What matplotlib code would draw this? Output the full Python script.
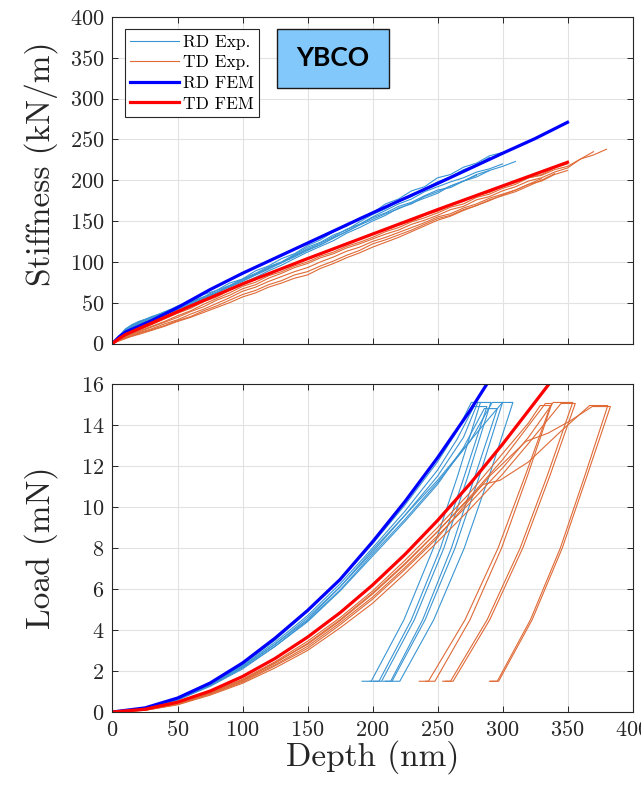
import matplotlib
matplotlib.use("Agg")
import matplotlib.pyplot as plt
from matplotlib.patches import Rectangle

plt.rcParams['font.family'] = ['cmr10', 'DejaVu Serif']
plt.rcParams['axes.formatter.use_mathtext'] = True
plt.rcParams['mathtext.fontset'] = 'cm'

# ---------------- Top panel: stiffness vs depth ----------------
STIFF_GRID = [0, 5, 10, 15, 20, 30, 40, 50, 60, 70, 80, 90, 100, 110, 120, 130, 140, 150,
              160, 170, 180, 190, 200, 210, 220, 230, 240, 250, 260, 270, 280, 290, 300,
              310, 320, 330, 340, 350, 360, 370, 380]

RD_EXP_STIFF = [
    [0, 9, 17, 23, 26, 33, 38, 46, 51, 60, 65, 74, 79, 89, 95, 104, 110, 120, 127, 137, 144, 154, 160,
     171, 177, 187, 192, 203, 207, 216, 221, 230, 234],
    [0, 8, 16, 21, 25, 31, 38, 44, 51, 57, 65, 71, 79, 86, 94, 100, 109, 118, 124, 133, 139, 149, 158,
     165, 174, 180, 190, 198, 204, 213, 219, 228],
    [0, 7, 15, 20, 24, 30, 36, 42, 48, 55, 62, 69, 76, 84, 91, 99, 106, 114, 121, 129, 137, 146, 154,
     160, 168, 173, 181, 188, 191, 199, 204, 212, 217, 223],
    [0, 8, 17, 22, 26, 32, 39, 45, 50, 57, 63, 71, 78, 85, 93, 99, 108, 116, 123, 131, 140, 146, 155,
     163, 171, 177, 186, 192, 198, 203, 210, 214, 220],
    [0, 8, 15, 20, 24, 29, 35, 41, 47, 54, 60, 67, 74, 81, 89, 96, 104, 112, 119, 126, 135, 142, 150,
     157, 166, 171, 180, 186, 193, 199, 207, 212],
    [0, 9, 18, 23, 27, 32, 38, 43, 49, 56, 62, 70, 77, 84, 92, 99, 107, 115, 121, 130, 137, 145, 152,
     159, 165, 172, 178, 184, 193, 199, 206],
]

TD_EXP_STIFF = [
    [0, 5, 9, 12, 15, 21, 27, 34, 40, 48, 55, 62, 70, 75, 83, 88, 95, 100, 107, 112, 119, 124, 130,
     137, 142, 149, 154, 160, 167, 171, 179, 183, 190, 195, 203, 206, 213, 217, 226, 231, 238],
    [0, 5, 8, 11, 14, 20, 26, 32, 39, 45, 53, 59, 67, 72, 80, 86, 93, 98, 105, 110, 117, 122, 128,
     134, 139, 146, 151, 157, 164, 168, 176, 180, 187, 192, 199, 203, 210, 215, 226, 235],
    [0, 6, 10, 13, 16, 23, 30, 37, 43, 51, 57, 65, 72, 78, 86, 91, 98, 103, 110, 115, 123, 128, 135,
     139, 145, 150, 157, 162, 169, 174, 181, 185, 192, 197, 203, 207, 215, 220],
    [0, 4, 7, 10, 13, 18, 24, 29, 36, 42, 49, 56, 64, 69, 76, 82, 88, 93, 100, 106, 113, 118, 125,
     130, 136, 142, 148, 155, 159, 166, 171, 178, 183, 188, 195, 199, 207, 212],
    [0, 4, 7, 9, 12, 17, 22, 28, 33, 40, 46, 53, 60, 65, 72, 77, 84, 88, 95, 101, 108, 114, 122,
     127, 133, 139, 146, 153, 157, 164, 169, 176, 181, 186, 193, 200, 208],
    [0, 3, 6, 9, 11, 16, 21, 27, 32, 38, 44, 50, 57, 62, 69, 74, 80, 84, 92, 98, 105, 111, 118,
     124, 130, 137, 144, 151, 156, 163, 169, 175, 182, 188, 195, 202],
]

RD_FEM_S_DEPTH = [0, 5, 10, 20, 30, 50, 75, 100, 150, 200, 250, 300, 325, 335, 350]
RD_FEM_STIFF = [0, 8, 14, 21, 28, 44, 66, 86, 123, 160, 196, 233, 251, 259, 271]
TD_FEM_S_DEPTH = [0, 5, 10, 20, 50, 100, 150, 200, 250, 300, 350]
TD_FEM_STIFF = [0, 6, 11, 18, 39, 73, 104, 134, 164, 193, 222]

# ---------------- Bottom panel: load vs depth ----------------
RD_EXP_DEPTH = [
    [0, 25, 50, 75, 100, 125, 150, 175, 200, 225, 250, 265, 276, 283, 265.4, 246.9, 224.2, 199, 192],
    [0, 25, 50, 75, 100, 125, 150, 175, 200, 225, 250, 270, 281, 291, 273.4, 254.9, 232.2, 207, 201],
    [0, 25, 50, 75, 100, 125, 150, 175, 200, 225, 250, 275, 292, 300, 282.2, 263.5, 240.5, 215, 210],
    [0, 25, 50, 75, 100, 125, 150, 175, 200, 225, 250, 280, 300, 308, 289.7, 270.6, 247.1, 221, 215],
    [0, 25, 50, 75, 100, 125, 150, 175, 200, 225, 250, 270, 286, 296, 278.8, 260.7, 238.6, 214, 208],
    [0, 25, 50, 75, 100, 125, 150, 175, 200, 225, 250, 265, 278, 288, 270.6, 252.3, 229.9, 205, 198],
]
RD_EXP_LOAD = [
    [0, 0.18, 0.65, 1.38, 2.3, 3.5, 4.9, 6.45, 8.2, 10.1, 12.2, 13.7, 15.1, 15.1, 11.5, 8, 4.5, 1.5, 1.5],
    [0, 0.17, 0.6, 1.3, 2.2, 3.3, 4.6, 6.1, 7.8, 9.6, 11.5, 13.4, 15.1, 15.1, 11.5, 8, 4.5, 1.5, 1.5],
    [0, 0.16, 0.58, 1.25, 2.1, 3.2, 4.45, 5.95, 7.7, 9.4, 11.2, 13.2, 15.1, 15.1, 11.5, 8, 4.5, 1.5, 1.5],
    [0, 0.17, 0.62, 1.3, 2.2, 3.3, 4.5, 6.1, 7.9, 9.6, 11.3, 13.6, 15.1, 15.1, 11.5, 8, 4.5, 1.5, 1.5],
    [0, 0.16, 0.6, 1.28, 2.15, 3.2, 4.4, 5.9, 7.6, 9.3, 11.1, 12.9, 14.8, 14.8, 11.5, 8, 4.5, 1.5, 1.5],
    [0, 0.18, 0.64, 1.35, 2.25, 3.4, 4.7, 6.25, 8.0, 9.8, 11.8, 13.3, 14.9, 14.9, 11.5, 8, 4.5, 1.5, 1.5],
]
TD_EXP_DEPTH = [
    [0, 25, 50, 75, 100, 125, 150, 175, 200, 225, 250, 275, 300, 320, 329, 337, 317.3, 296.6, 271.2, 243, 236],
    [0, 25, 50, 75, 100, 125, 150, 175, 200, 225, 250, 275, 300, 318, 333, 338, 319.1, 299.3, 275, 248, 241],
    [0, 25, 50, 75, 100, 125, 150, 175, 200, 225, 250, 275, 300, 320, 339, 354, 334.3, 313.6, 288.2, 260, 254],
    [0, 25, 50, 75, 100, 125, 150, 175, 200, 225, 250, 275, 300, 320, 345, 356, 336.3, 315.6, 290.2, 262, 256],
    [0, 25, 50, 75, 100, 125, 150, 175, 200, 225, 250, 285, 298, 320, 345, 367, 381, 363.2, 344.5, 321.5, 296, 290],
    [0, 25, 50, 75, 100, 125, 150, 175, 200, 225, 250, 290, 318, 335, 352, 369, 383, 364.9, 346, 322.8, 297, 291],
]
TD_EXP_LOAD = [
    [0, 0.1, 0.42, 0.95, 1.6, 2.45, 3.45, 4.6, 5.9, 7.4, 9.0, 10.7, 12.6, 14.1, 14.95, 14.95, 11.5, 8, 4.5, 1.5, 1.5],
    [0, 0.1, 0.4, 0.92, 1.55, 2.38, 3.35, 4.5, 5.8, 7.25, 8.8, 10.5, 12.3, 13.8, 15.05, 15.05, 11.5, 8, 4.5, 1.5, 1.5],
    [0, 0.09, 0.38, 0.88, 1.5, 2.3, 3.2, 4.35, 5.6, 7.05, 8.6, 10.2, 11.9, 13.4, 15.1, 15.1, 11.5, 8, 4.5, 1.5, 1.5],
    [0, 0.08, 0.35, 0.82, 1.4, 2.15, 3.0, 4.1, 5.3, 6.75, 8.3, 9.9, 11.6, 13.1, 15.05, 15.05, 11.5, 8, 4.5, 1.5, 1.5],
    [0, 0.1, 0.4, 0.93, 1.55, 2.4, 3.3, 4.45, 5.75, 7.2, 8.8, 11.1, 11.3, 12.2, 13.7, 14.95, 14.95, 11.5, 8, 4.5, 1.5, 1.5],
    [0, 0.09, 0.37, 0.87, 1.45, 2.25, 3.1, 4.25, 5.5, 6.95, 8.5, 11.5, 13.2, 13.6, 14.2, 14.9, 14.9, 11.5, 8, 4.5, 1.5, 1.5],
]
RD_FEM_L_DEPTH = [0, 25, 50, 75, 100, 125, 150, 175, 200, 225, 250, 275, 290]
RD_FEM_LOAD = [0, 0.2, 0.68, 1.41, 2.39, 3.6, 4.95, 6.46, 8.3, 10.27, 12.4, 14.7, 16.2]
TD_FEM_L_DEPTH = [0, 25, 50, 75, 100, 125, 150, 175, 200, 225, 250, 275, 300, 320, 337]
TD_FEM_LOAD = [0, 0.135, 0.48, 1.02, 1.73, 2.61, 3.65, 4.84, 6.19, 7.69, 9.34, 11.13, 13.06, 14.7, 16.1]

LEGEND_LABELS = ['RD Exp.', 'TD Exp.', 'RD FEM', 'TD FEM']
X_TICKS = [0, 50, 100, 150, 200, 250, 300, 350, 400]
S_TICKS = [0, 50, 100, 150, 200, 250, 300, 350, 400]
L_TICKS = [0, 2, 4, 6, 8, 10, 12, 14, 16]

C_RD_EXP = '#3a95d3'
C_TD_EXP = '#df6a36'
C_RD_FEM = '#0000ff'
C_TD_FEM = '#ff0000'

W, H = 641, 786
fig = plt.figure(figsize=(W / 100, H / 100), dpi=100)
ax1 = fig.add_axes([112.5 / W, 1 - 343.5 / H, 520 / W, 326.5 / H])
ax2 = fig.add_axes([112.5 / W, 1 - 712 / H, 520 / W, 328 / H])


def style(ax):
    ax.grid(True, color='#e2e2e2', linewidth=0.8)
    ax.set_axisbelow(True)
    for sp in ax.spines.values():
        sp.set_color('#262626')
        sp.set_linewidth(0.8)
    ax.tick_params(direction='in', top=True, right=True, length=4, width=0.7,
                   color='#262626', labelsize=16, labelcolor='#262626', pad=6)
    ax.set_xlim(0, 400)
    ax.set_xticks(X_TICKS)


style(ax1)
style(ax2)

# top panel
h_rd = h_td = None
for s in RD_EXP_STIFF:
    h_rd, = ax1.plot(STIFF_GRID[:len(s)], s, color=C_RD_EXP, lw=0.8)
for s in TD_EXP_STIFF:
    h_td, = ax1.plot(STIFF_GRID[:len(s)], s, color=C_TD_EXP, lw=0.8)
h_rf, = ax1.plot(RD_FEM_S_DEPTH, RD_FEM_STIFF, color=C_RD_FEM, lw=2.3)
h_tf, = ax1.plot(TD_FEM_S_DEPTH, TD_FEM_STIFF, color=C_TD_FEM, lw=2.3)
ax1.set_ylim(0, 400)
ax1.set_yticks(S_TICKS)
ax1.set_xticklabels([])
ax1.set_ylabel('Stiffness (kN/m)', fontsize=24, color='#262626')
ax1.yaxis.set_label_coords(-0.105, 0.55)

leg = ax1.legend([h_rd, h_td, h_rf, h_tf], LEGEND_LABELS, loc='upper left',
                 bbox_to_anchor=(0.024, 0.962), borderaxespad=0, fontsize=12.5,
                 fancybox=False, framealpha=1, edgecolor='#262626', handlelength=2.8,
                 handletextpad=0.25, labelspacing=0.3, borderpad=0.3)
leg.get_frame().set_linewidth(0.8)

# YBCO box
bx0, by0, bx1, by1 = 276.7, 29.3, 389.3, 87.7
fig.patches.append(Rectangle((bx0 / W, 1 - by1 / H), (bx1 - bx0) / W, (by1 - by0) / H,
                             transform=fig.transFigure, facecolor='#83c8fb',
                             edgecolor='#1a1a1a', linewidth=1.0, zorder=5))
fig.text((bx0 + bx1) / 2 / W, 1 - (by0 + by1) / 2 / H, 'YBCO', ha='center', va='center',
         fontsize=19, fontweight='bold', family='Lato', zorder=6)

# bottom panel
for d, l in zip(RD_EXP_DEPTH, RD_EXP_LOAD):
    ax2.plot(d, l, color=C_RD_EXP, lw=0.8)
for d, l in zip(TD_EXP_DEPTH, TD_EXP_LOAD):
    ax2.plot(d, l, color=C_TD_EXP, lw=0.8)
ax2.plot(RD_FEM_L_DEPTH, RD_FEM_LOAD, color=C_RD_FEM, lw=2.3)
ax2.plot(TD_FEM_L_DEPTH, TD_FEM_LOAD, color=C_TD_FEM, lw=2.3)
ax2.set_ylim(0, 16)
ax2.set_yticks(L_TICKS)
ax2.set_xlabel('Depth (nm)', fontsize=24, color='#262626')
ax2.xaxis.set_label_coords(0.5, -0.085)
ax2.set_ylabel('Load (mN)', fontsize=24, color='#262626')
ax2.yaxis.set_label_coords(-0.105, 0.5)

fig.savefig('out.png', dpi=100)
